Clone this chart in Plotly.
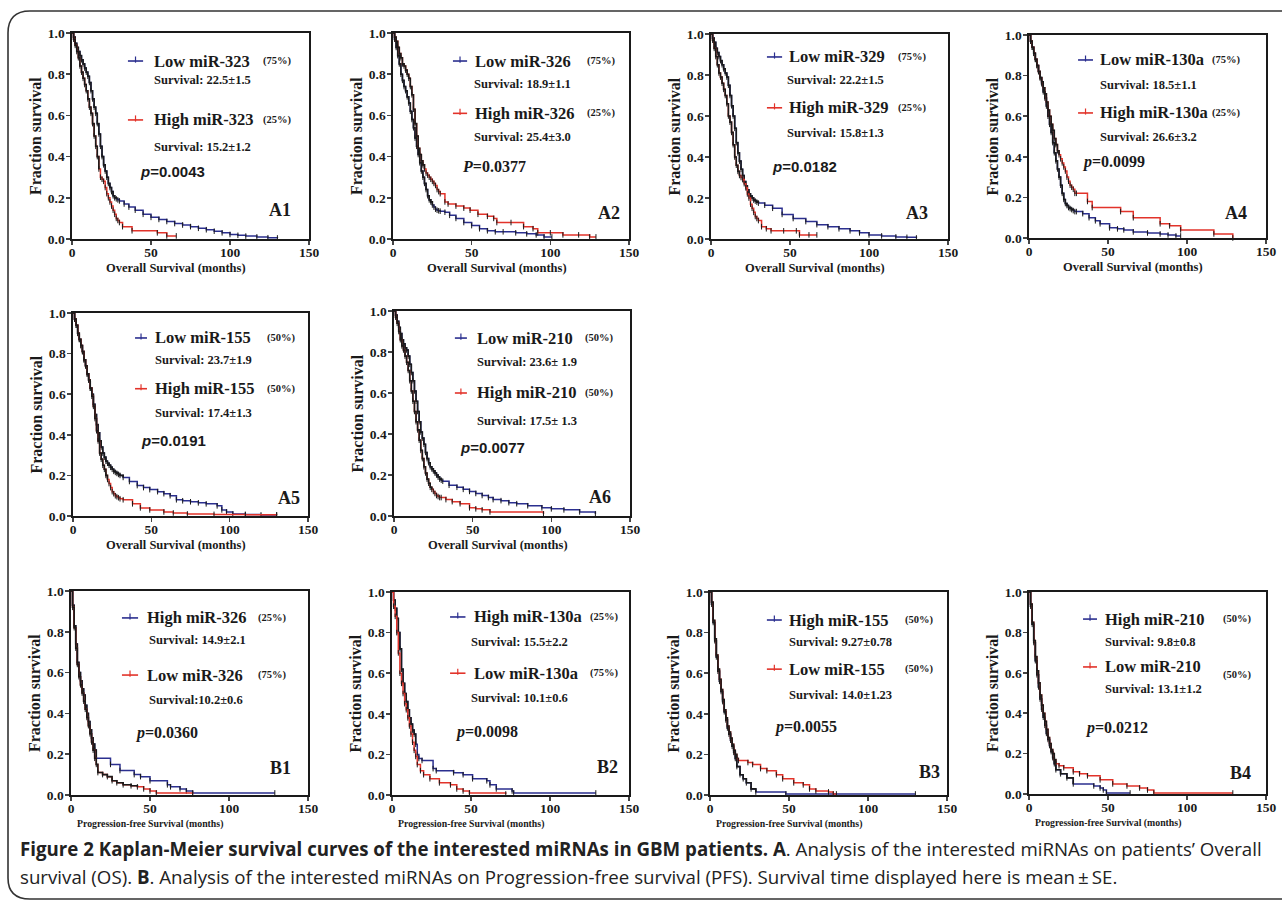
import plotly.graph_objects as go

W, H = 1282, 902

# ---------------- data ----------------
xticks = [0, 50, 100, 150]
yticks = [0.0, 0.2, 0.4, 0.6, 0.8, 1.0]

A1_blue_t = [0,1,2,3,4,5,6,7,8,9,10,11,12,13,14,15,16,17,18,19,20,21,22,23,24,25,26,27,28,29,30,33,36,40,45,50,55,60,65,70,75,80,85,90,95,100,105,110,117,124,130]
A1_blue_s = [1,0.98,0.95,0.93,0.91,0.89,0.87,0.85,0.83,0.81,0.79,0.76,0.72,0.68,0.64,0.61,0.56,0.51,0.45,0.4,0.36,0.33,0.3,0.27,0.25,0.23,0.21,0.2,0.195,0.19,0.185,0.17,0.155,0.14,0.12,0.105,0.095,0.085,0.075,0.068,0.06,0.052,0.045,0.038,0.03,0.022,0.018,0.014,0.01,0.006,0.005]
A1_red_t = [0,1,2,3,4,5,6,7,8,9,10,11,12,13,14,15,16,17,18,19,20,21,22,23,24,25,26,27,28,29,30,32,38,54,60,66]
A1_red_s = [1,0.97,0.94,0.91,0.88,0.84,0.81,0.78,0.75,0.72,0.68,0.64,0.61,0.56,0.5,0.45,0.4,0.34,0.3,0.29,0.28,0.25,0.22,0.2,0.18,0.16,0.14,0.12,0.1,0.09,0.08,0.06,0.04,0.03,0.015,0.015]

A2_blue_t = [0,1,2,3,4,5,6,7,8,9,10,11,12,13,14,15,16,17,18,19,20,21,22,23,24,25,26,27,28,29,30,33,36,40,45,50,55,60,65,70,78,85,91,96,101]
A2_blue_s = [1,0.97,0.93,0.89,0.85,0.8,0.77,0.74,0.72,0.69,0.66,0.62,0.58,0.54,0.49,0.45,0.41,0.37,0.33,0.3,0.27,0.24,0.21,0.19,0.18,0.165,0.155,0.145,0.14,0.137,0.135,0.13,0.115,0.1,0.08,0.065,0.05,0.04,0.035,0.035,0.03,0.025,0.02,0.01,0.01]
A2_red_t = [0,1,2,3,4,5,6,7,8,9,10,11,12,13,14,15,16,17,18,19,20,21,22,23,24,25,26,27,28,29,30,33,35,40,45,49,54,60,64,66,75,83,89,92,100,108,118,125,129]
A2_red_s = [1,0.98,0.96,0.93,0.9,0.88,0.85,0.84,0.82,0.8,0.78,0.74,0.7,0.63,0.56,0.5,0.44,0.41,0.38,0.36,0.34,0.32,0.31,0.3,0.29,0.28,0.27,0.26,0.24,0.23,0.22,0.18,0.17,0.16,0.15,0.14,0.12,0.11,0.1,0.08,0.08,0.06,0.05,0.03,0.03,0.02,0.02,0.01,0.01]

A3_blue_t = [0,1,2,3,4,5,6,7,8,9,10,11,12,13,14,15,16,17,18,19,20,21,22,23,24,25,26,27,28,29,30,34,39,45,52,60,67,74,81,88,94,100,108,117,124,130]
A3_blue_s = [1,0.98,0.96,0.93,0.91,0.89,0.87,0.85,0.83,0.81,0.79,0.75,0.7,0.65,0.6,0.54,0.47,0.42,0.38,0.34,0.31,0.28,0.26,0.24,0.22,0.21,0.2,0.19,0.185,0.18,0.175,0.165,0.15,0.12,0.1,0.085,0.07,0.06,0.05,0.04,0.03,0.02,0.015,0.01,0.008,0.005]
A3_red_t = [0,1,2,3,4,5,6,7,8,9,10,11,12,13,14,15,16,17,18,19,20,21,22,23,24,25,26,27,28,29,30,32,35,38,46,54,56,62,67]
A3_red_s = [1,0.97,0.93,0.89,0.85,0.81,0.79,0.76,0.73,0.7,0.66,0.6,0.57,0.52,0.46,0.4,0.36,0.33,0.31,0.3,0.29,0.27,0.25,0.22,0.2,0.17,0.15,0.13,0.11,0.1,0.09,0.06,0.05,0.04,0.04,0.04,0.02,0.02,0.02]

A4_blue_t = [0,1,2,3,4,5,6,7,8,9,10,11,12,13,14,15,16,17,18,19,20,21,22,23,24,25,26,27,28,29,30,34,38,42,45,51,56,60,66,75,83,88,93,96]
A4_blue_s = [1,0.97,0.94,0.91,0.88,0.85,0.82,0.79,0.76,0.72,0.69,0.65,0.6,0.56,0.52,0.47,0.42,0.38,0.34,0.3,0.26,0.22,0.19,0.17,0.16,0.15,0.145,0.14,0.135,0.13,0.13,0.12,0.1,0.085,0.07,0.05,0.045,0.04,0.03,0.025,0.02,0.015,0.01,0.01]
A4_red_t = [0,1,2,3,4,5,6,7,8,9,10,11,12,13,14,15,16,17,18,19,20,21,22,23,24,25,26,27,28,29,30,37,40,58,66,83,89,96,117,129]
A4_red_s = [1,0.97,0.94,0.91,0.88,0.85,0.82,0.79,0.77,0.74,0.71,0.67,0.63,0.6,0.56,0.53,0.49,0.46,0.43,0.41,0.39,0.37,0.35,0.33,0.3,0.28,0.26,0.25,0.24,0.22,0.22,0.18,0.15,0.13,0.1,0.07,0.06,0.04,0.02,0.0]

A5_blue_t = [0,1,2,3,4,5,6,7,8,9,10,11,12,13,14,15,16,17,18,19,20,21,22,23,24,25,26,27,28,29,30,32,36,41,45,49,54,58,62,66,70,75,80,85,92,95,98,102,110,120,130]
A5_blue_s = [1,0.97,0.94,0.9,0.87,0.84,0.81,0.77,0.74,0.7,0.67,0.63,0.6,0.55,0.5,0.45,0.41,0.37,0.34,0.31,0.29,0.27,0.26,0.25,0.24,0.23,0.22,0.215,0.21,0.205,0.2,0.19,0.17,0.15,0.14,0.13,0.12,0.11,0.1,0.08,0.075,0.07,0.065,0.06,0.05,0.03,0.02,0.01,0.008,0.005,0.005]
A5_red_t = [0,1,2,3,4,5,6,7,8,9,10,11,12,13,14,15,16,17,18,19,20,21,22,23,24,25,26,27,28,29,30,32,38,43,49,58,64,73,90,110,130]
A5_red_s = [1,0.97,0.94,0.9,0.87,0.84,0.81,0.77,0.74,0.7,0.67,0.63,0.59,0.54,0.48,0.42,0.37,0.31,0.28,0.25,0.23,0.2,0.18,0.16,0.14,0.12,0.11,0.1,0.095,0.09,0.085,0.08,0.06,0.04,0.03,0.02,0.015,0.01,0.008,0.006,0.005]

A6_blue_t = [0,1,2,3,4,5,6,7,8,9,10,11,12,13,14,15,16,17,18,19,20,21,22,23,24,25,26,27,28,29,30,31,35,40,44,48,52,56,60,63,68,73,78,85,94,100,108,118,128]
A6_blue_s = [1,0.98,0.95,0.92,0.89,0.86,0.84,0.82,0.81,0.78,0.74,0.7,0.66,0.61,0.56,0.51,0.46,0.41,0.38,0.35,0.31,0.28,0.26,0.24,0.23,0.22,0.21,0.2,0.19,0.18,0.175,0.17,0.15,0.14,0.13,0.12,0.11,0.1,0.09,0.08,0.075,0.065,0.06,0.05,0.04,0.035,0.03,0.02,0.01]
A6_red_t = [0,1,2,3,4,5,6,7,8,9,10,11,12,13,14,15,16,17,18,19,20,21,22,23,24,25,26,27,28,29,30,33,37,42,48,52,56,61,95]
A6_red_s = [1,0.97,0.94,0.9,0.86,0.83,0.81,0.78,0.75,0.71,0.66,0.61,0.56,0.51,0.46,0.42,0.37,0.32,0.28,0.24,0.21,0.18,0.16,0.14,0.13,0.12,0.11,0.1,0.095,0.09,0.09,0.08,0.07,0.06,0.04,0.035,0.03,0.02,0.01]

B1_blue_t = [0,1,2,3,4,5,6,7,8,9,10,11,12,13,14,15,16,25,31,40,44,50,61,63,69,73,77,129]
B1_blue_s = [1,0.93,0.83,0.74,0.65,0.6,0.56,0.52,0.49,0.44,0.4,0.36,0.32,0.28,0.25,0.22,0.18,0.15,0.12,0.1,0.09,0.07,0.05,0.04,0.03,0.02,0.01,0.01]
B1_red_t = [0,1,2,3,4,5,6,7,8,9,10,11,12,13,14,15,16,17,20,23,26,29,33,38,42,46,50,54,77]
B1_red_s = [1,0.92,0.82,0.72,0.64,0.58,0.54,0.5,0.46,0.42,0.38,0.34,0.3,0.26,0.22,0.18,0.15,0.11,0.1,0.09,0.07,0.06,0.05,0.045,0.04,0.03,0.02,0.01,0.005]

B2_blue_t = [0,1,2,3,4,5,6,7,8,9,10,11,12,13,14,15,16,17,19,26,28,39,45,51,60,62,66,76,77,129]
B2_blue_s = [1,0.96,0.92,0.87,0.8,0.72,0.62,0.55,0.5,0.46,0.42,0.38,0.35,0.32,0.3,0.25,0.2,0.18,0.17,0.13,0.12,0.11,0.1,0.08,0.07,0.05,0.03,0.02,0.01,0.01]
B2_red_t = [0,1,2,3,4,5,6,7,8,9,10,11,12,13,14,15,16,18,20,24,30,37,41,45,49,72]
B2_red_s = [1,0.93,0.88,0.8,0.7,0.6,0.55,0.5,0.45,0.42,0.38,0.34,0.3,0.26,0.22,0.19,0.15,0.12,0.1,0.08,0.06,0.05,0.03,0.02,0.01,0.005]

B3_blue_t = [0,1,2,3,4,5,6,7,8,9,10,11,12,13,14,15,16,17,19,21,23,26,29,48,130]
B3_blue_s = [1,0.94,0.85,0.76,0.68,0.61,0.56,0.51,0.46,0.41,0.37,0.33,0.3,0.27,0.24,0.21,0.18,0.14,0.1,0.08,0.06,0.03,0.015,0.005,0.005]
B3_red_t = [0,1,2,3,4,5,6,7,8,9,10,11,12,13,14,15,16,17,18,24,27,32,36,42,46,53,59,63,67,75,78,80]
B3_red_s = [1,0.95,0.86,0.77,0.69,0.62,0.57,0.52,0.47,0.42,0.38,0.34,0.31,0.28,0.25,0.22,0.2,0.18,0.17,0.16,0.15,0.13,0.12,0.1,0.08,0.06,0.05,0.03,0.02,0.015,0.005,0.005]

B4_blue_t = [0,1,2,3,4,5,6,7,8,9,10,11,12,13,14,15,16,17,20,24,28,41,45,47,49,64]
B4_blue_s = [1,0.93,0.84,0.75,0.66,0.59,0.53,0.47,0.42,0.38,0.34,0.3,0.27,0.24,0.21,0.18,0.15,0.12,0.1,0.08,0.05,0.04,0.03,0.02,0.005,0.005]
B4_red_t = [0,1,2,3,4,5,6,7,8,9,10,11,12,13,14,15,16,17,19,22,28,32,37,45,53,62,70,75,79,129]
B4_red_s = [1,0.94,0.85,0.76,0.68,0.61,0.55,0.49,0.44,0.4,0.36,0.32,0.28,0.25,0.22,0.2,0.17,0.15,0.14,0.13,0.11,0.1,0.09,0.07,0.05,0.04,0.03,0.02,0.005,0.005]

panel_labels = ["A1", "A2", "A3", "A4", "A5", "A6", "B1", "B2", "B3", "B4"]
blue_names = ["Low miR-323", "Low miR-326", "Low miR-329", "Low miR-130a", "Low miR-155", "Low miR-210",
              "High miR-326", "High miR-130a", "High miR-155", "High miR-210"]
red_names = ["High miR-323", "High miR-326", "High miR-329", "High miR-130a", "High miR-155", "High miR-210",
             "Low miR-326", "Low miR-130a", "Low miR-155", "Low miR-210"]
blue_pct = ["(75%)", "(75%)", "(75%)", "(75%)", "(50%)", "(50%)", "(25%)", "(25%)", "(50%)", "(50%)"]
red_pct = ["(25%)", "(25%)", "(25%)", "(25%)", "(50%)", "(50%)", "(75%)", "(75%)", "(50%)", "(50%)"]
blue_surv = ["Survival: 22.5±1.5", "Survival: 18.9±1.1", "Survival: 22.2±1.5", "Survival: 18.5±1.1",
             "Survival: 23.7±1.9", "Survival: 23.6± 1.9", "Survival: 14.9±2.1", "Survival: 15.5±2.2",
             "Survival: 9.27±0.78", "Survival: 9.8±0.8"]
red_surv = ["Survival: 15.2±1.2", "Survival: 25.4±3.0", "Survival: 15.8±1.3", "Survival: 26.6±3.2",
            "Survival: 17.4±1.3", "Survival: 17.5± 1.3", "Survival:10.2±0.6", "Survival: 10.1±0.6",
            "Survival: 14.0±1.23", "Survival: 13.1±1.2"]
p_letter = ["p", "P", "p", "p", "p", "p", "p", "p", "p", "p"]
p_values = ["0.0043", "0.0377", "0.0182", "0.0099", "0.0191", "0.0077", "0.0360", "0.0098", "0.0055", "0.0212"]
x_titles = ["Overall Survival (months)"] * 6 + ["Progression-free Survival (months)"] * 4

curves_blue = [(A1_blue_t, A1_blue_s), (A2_blue_t, A2_blue_s), (A3_blue_t, A3_blue_s), (A4_blue_t, A4_blue_s),
               (A5_blue_t, A5_blue_s), (A6_blue_t, A6_blue_s), (B1_blue_t, B1_blue_s), (B2_blue_t, B2_blue_s),
               (B3_blue_t, B3_blue_s), (B4_blue_t, B4_blue_s)]
curves_red = [(A1_red_t, A1_red_s), (A2_red_t, A2_red_s), (A3_red_t, A3_red_s), (A4_red_t, A4_red_s),
              (A5_red_t, A5_red_s), (A6_red_t, A6_red_s), (B1_red_t, B1_red_s), (B2_red_t, B2_red_s),
              (B3_red_t, B3_red_s), (B4_red_t, B4_red_s)]

# ---------------- layout / style (pixels) ----------------
boxes = [(72, 309, 33, 239), (393, 629, 33, 239), (711, 948, 34, 239), (1029, 1266, 35, 238),
         (73, 308, 313, 516), (394, 630, 311, 516),
         (71, 308, 591, 795), (392, 629, 592, 795), (710, 947, 592, 795), (1029, 1266, 592, 794)]
# lx0, lx1, tx, sx, pr, y1, y2, y3, y4, px, py, labr, laby, y3pct
pos = [
    (0.236, 0.300, 0.338, 0.338, 0.932, 0.864, 0.772, 0.578, 0.447, 0.278, 0.330, 0.932, 0.141, 0.578),
    (0.254, 0.314, 0.339, 0.335, 0.950, 0.864, 0.752, 0.610, 0.495, 0.284, 0.354, 0.970, 0.126, 0.610),
    (0.236, 0.300, 0.320, 0.312, 0.916, 0.888, 0.776, 0.640, 0.517, 0.249, 0.356, 0.924, 0.127, 0.640),
    (0.207, 0.270, 0.290, 0.290, 0.900, 0.877, 0.754, 0.616, 0.500, 0.215, 0.374, 0.930, 0.123, 0.616),
    (0.264, 0.315, 0.340, 0.340, 0.953, 0.877, 0.770, 0.627, 0.505, 0.280, 0.373, 0.974, 0.088, 0.627),
    (0.258, 0.309, 0.343, 0.343, 0.936, 0.868, 0.751, 0.600, 0.463, 0.270, 0.332, 0.930, 0.093, 0.600),
    (0.215, 0.283, 0.312, 0.320, 0.916, 0.868, 0.760, 0.588, 0.466, 0.260, 0.304, 0.937, 0.132, 0.588),
    (0.245, 0.310, 0.338, 0.325, 0.962, 0.877, 0.754, 0.600, 0.478, 0.257, 0.310, 0.962, 0.138, 0.600),
    (0.240, 0.303, 0.325, 0.327, 0.950, 0.862, 0.754, 0.620, 0.493, 0.260, 0.335, 0.980, 0.113, 0.620),
    (0.228, 0.287, 0.312, 0.312, 0.945, 0.866, 0.752, 0.629, 0.520, 0.228, 0.327, 0.945, 0.104, 0.589),
]
p_sans = [True, False, True, False, True, True, False, False, False, False]
dark_blue = [28, 25, 30, 28, 34, 30, 16, 15, 30, 30]
dark_red = [17, 20, 18, 19, 22, 24, 45, 0, 17, 17]
xt_center = [0.44] * 6 + [0.333] * 4
xt_size = [12.5] * 6 + [9.8] * 4

BLUE = "#2b2f8f"
RED = "#e2332a"
INK = "#1a1a1a"
SERIF = "Liberation Serif"
SANS = "Liberation Sans"

fig = go.Figure()
shapes = []
annotations = []


def subset(t, s, tmax):
    tt, ss = [], []
    for a, b in zip(t, s):
        if a <= tmax:
            tt.append(a)
            ss.append(b)
    return tt, ss


layout_axes = {}
for i in range(10):
    n = i + 1
    xa = "x" if n == 1 else f"x{n}"
    ya = "y" if n == 1 else f"y{n}"
    x0, x1, y0, y1 = boxes[i]
    dom_x = [x0 / W, x1 / W]
    dom_y = [1 - y1 / H, 1 - y0 / H]
    layout_axes["xaxis" if n == 1 else f"xaxis{n}"] = dict(
        domain=dom_x, range=[0, 150], anchor=ya, tickvals=xticks, ticks="outside", ticklen=4, tickwidth=1.5,
        showline=True, linewidth=1.6, linecolor=INK, mirror=True, showgrid=False, zeroline=False,
        automargin=False,
        tickfont=dict(family=SERIF, size=13.5, color=INK, weight="bold"), ticklabelstandoff=-4, fixedrange=True)
    layout_axes["yaxis" if n == 1 else f"yaxis{n}"] = dict(
        domain=dom_y, range=[0, 1], anchor=xa, tickvals=yticks, tickformat=".1f", ticks="outside", ticklen=4,
        tickwidth=1.5, showline=True, linewidth=1.6, linecolor=INK, mirror=True, showgrid=False, zeroline=False,
        automargin=False,
        tickfont=dict(family=SERIF, size=13.5, color=INK, weight="bold"), ticklabelstandoff=-1, fixedrange=True)

    for (t, s), col, dk in ((curves_blue[i], BLUE, dark_blue[i]), (curves_red[i], RED, dark_red[i])):
        fig.add_trace(go.Scatter(x=t, y=s, mode="lines", line=dict(color=col, width=1.5, shape="hv"),
                                 xaxis=xa, yaxis=ya, showlegend=False, hoverinfo="skip", cliponaxis=False))
        if dk > 0:
            tt, ss = subset(t, s, dk)
            fig.add_trace(go.Scatter(x=tt, y=ss, mode="lines", line=dict(color=INK, width=1.6, shape="hv"),
                                     xaxis=xa, yaxis=ya, showlegend=False, hoverinfo="skip", cliponaxis=False))
        fig.add_trace(go.Scatter(x=t[1:], y=s[1:], mode="markers",
                                 marker=dict(symbol="line-ns", size=4, line=dict(color=INK, width=1)),
                                 xaxis=xa, yaxis=ya, showlegend=False, hoverinfo="skip", cliponaxis=False))

    lx0, lx1, tx, sx, pr, ry1, ry2, ry3, ry4, px, py, labr, laby, ry3p = pos[i]
    xr = f"{xa} domain"
    yr = f"{ya} domain"
    # legend glyphs
    for yy, col in ((ry1, BLUE), (ry3, RED)):
        shapes.append(dict(type="line", xref=xr, yref=yr, x0=lx0, x1=lx1, y0=yy, y1=yy,
                           line=dict(color=col, width=1.6)))
        shapes.append(dict(type="line", xref=xr, yref=yr, x0=(lx0 + lx1) / 2, x1=(lx0 + lx1) / 2,
                           y0=yy - 0.008, y1=yy + 0.022, line=dict(color=col, width=1.2)))

    def ann(text, x, y, size, family=SERIF, xanchor="left", **kw):
        annotations.append(dict(text=text, x=x, y=y, xref=xr, yref=yr, xanchor=xanchor, yanchor="middle",
                                showarrow=False, font=dict(family=family, size=size, color=INK), **kw))

    ann(f"<b>{blue_names[i]}</b>", tx, ry1, 16.5)
    ann(f"<b>{red_names[i]}</b>", tx, ry3, 16.5)
    ann(f"<b>{blue_pct[i]}</b>", pr, ry1, 10.5, xanchor="right")
    ann(f"<b>{red_pct[i]}</b>", pr, ry3p, 10.5, xanchor="right")
    ann(f"<b>{blue_surv[i]}</b>", sx, ry2, 12.5)
    ann(f"<b>{red_surv[i]}</b>", sx, ry4, 12.5)
    if p_sans[i]:
        ann(f"<b><i>{p_letter[i]}</i>={p_values[i]}</b>", px, py, 15, family=SANS)
    else:
        ann(f"<b><i>{p_letter[i]}</i>={p_values[i]}</b>", px, py, 16)
    ann(f"<b>{panel_labels[i]}</b>", labr, laby, 18, xanchor="right")
    # axis titles
    annotations.append(dict(text="<b>Fraction survival</b>", x=0, y=0.5, xref=xr, yref=yr, xshift=-37,
                            xanchor="center", yanchor="middle", textangle=-90, showarrow=False,
                            font=dict(family=SERIF, size=16, color=INK)))
    annotations.append(dict(text=f"<b>{x_titles[i]}</b>", x=xt_center[i], y=0, xref=xr, yref=yr, yshift=-29,
                            xanchor="center", yanchor="middle", showarrow=False,
                            font=dict(family=SERIF, size=xt_size[i], color=INK)))

# caption
cap1 = ("<b>Figure 2 Kaplan-Meier survival curves of the interested miRNAs in GBM patients. A</b>. "
        "Analysis of the interested miRNAs on patients\u2019 Overall")
cap2 = ("survival (OS). <b>B</b>. Analysis of the interested miRNAs on Progression-free survival (PFS). "
        "Survival time displayed here is mean\u2009\u00b1\u2009SE.")
for txt, yy in ((cap1, 848), (cap2, 876)):
    annotations.append(dict(text=txt, x=18 / W, y=1 - yy / H, xref="paper", yref="paper", xanchor="left",
                            yanchor="middle", showarrow=False, font=dict(family="Open Sans", size=18.7, color="#222")))

# border frame
def px(x, y):
    return f"{x / W:.5f},{1 - y / H:.5f}"

path = (f"M {px(1282, 11)} L {px(30, 11)} Q {px(8, 11)} {px(8, 33)} L {px(8, 878)} "
        f"Q {px(8, 899)} {px(30, 899)} L {px(1282, 899)}")
shapes.append(dict(type="path", xref="paper", yref="paper", path=path, line=dict(color="#333", width=1.6)))

fig.update_layout(width=W, height=H, margin=dict(l=0, r=0, t=0, b=0, autoexpand=False), paper_bgcolor="white",
                  plot_bgcolor="white", shapes=shapes, annotations=annotations, showlegend=False, **layout_axes)
fig.write_html("out.html", config={"displayModeBar": False, "staticPlot": True},
               post_script="document.body.style.margin='0';document.body.style.padding='0';"
                           "document.body.style.overflow='hidden';")
